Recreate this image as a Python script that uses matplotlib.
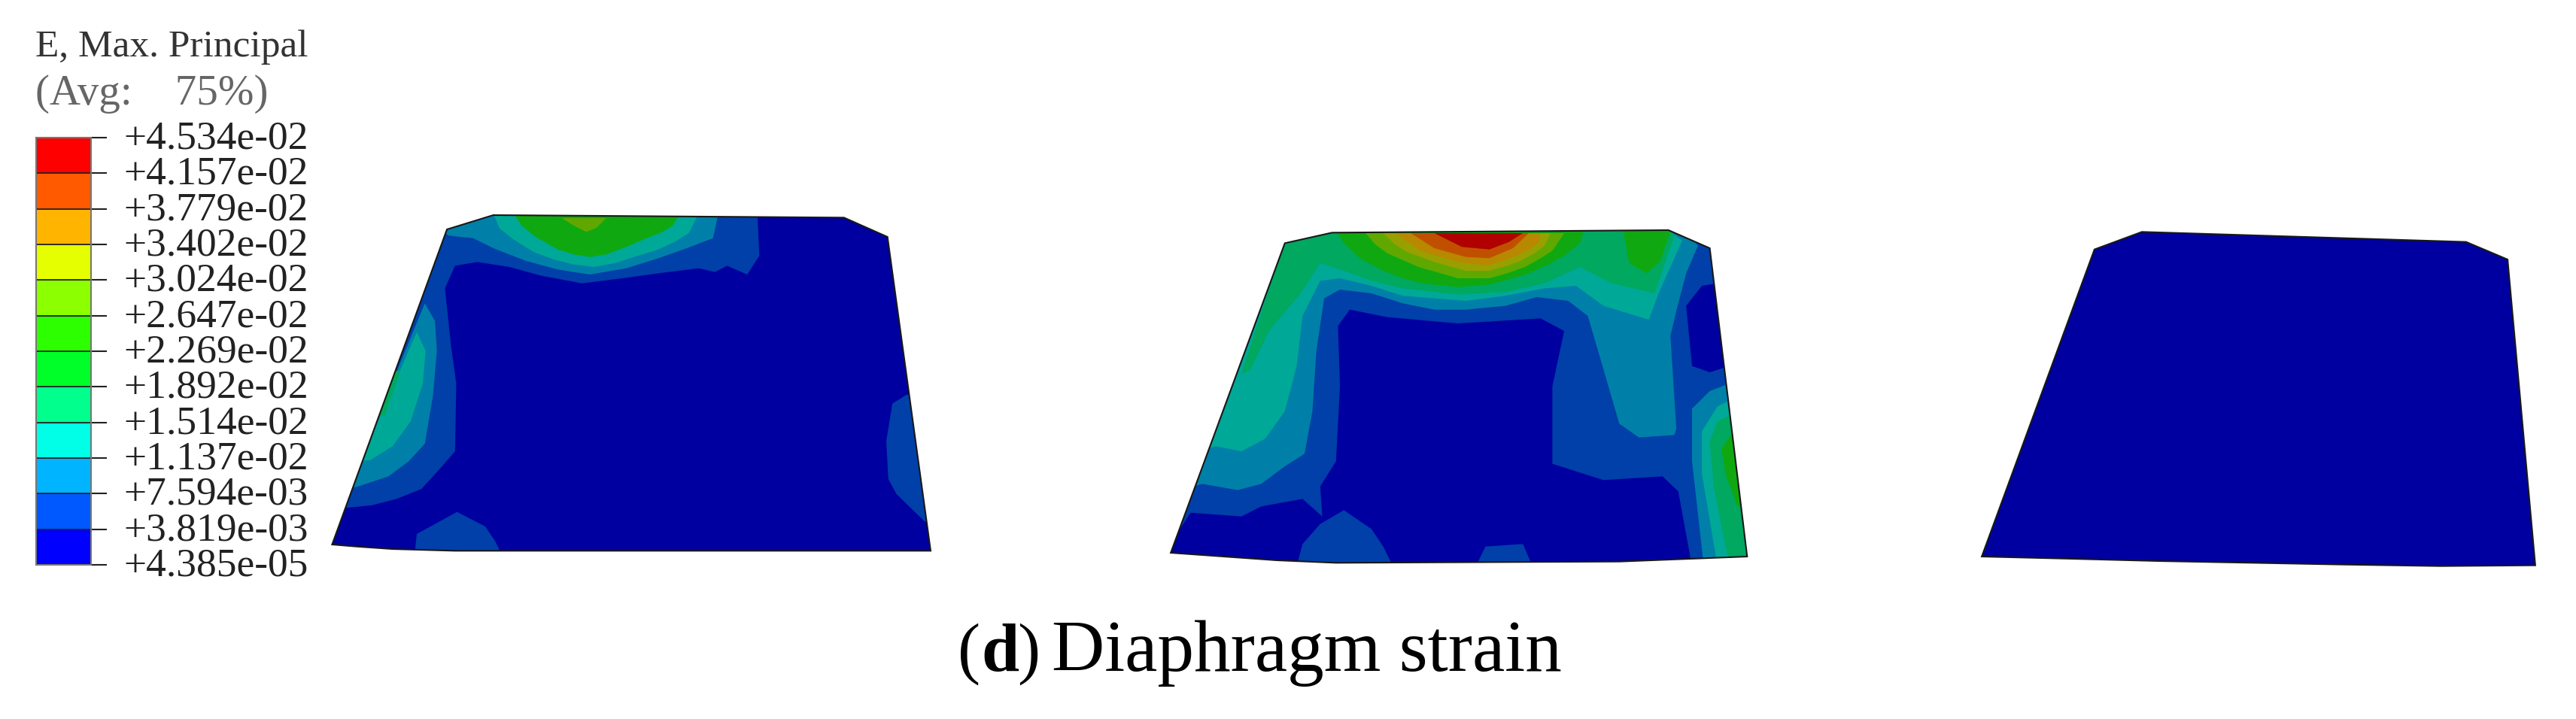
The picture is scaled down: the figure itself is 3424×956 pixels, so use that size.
import matplotlib
matplotlib.use("Agg")
from matplotlib import pyplot as plt
from matplotlib.patches import Polygon
from matplotlib.transforms import ScaledTranslation

plt.rcParams['font.family'] = ['Liberation Serif', 'DejaVu Serif']

W, H = 3424, 956

# legend
legend_title = 'E, Max. Principal'
legend_avg = '(Avg:    75%)'
legend_labels = ['+4.534e-02', '+4.157e-02', '+3.779e-02', '+3.402e-02', '+3.024e-02',
                 '+2.647e-02', '+2.269e-02', '+1.892e-02', '+1.514e-02', '+1.137e-02',
                 '+7.594e-03', '+3.819e-03', '+4.385e-05']
legend_colors = ['#ff0000', '#ff5a00', '#ffb400', '#e6ff00', '#8cff00', '#2dff00',
                 '#00ff28', '#00ff8c', '#00ffe6', '#00b4ff', '#0059ff', '#0000ff']

# shaded contour colours, level 0 is the lowest band
band_colors = ['#0000a0', '#0040a8', '#0080a8', '#00a898', '#00a860', '#10a810',
               '#60a800', '#98a000', '#b88800', '#c05000', '#b00000']

outline_a = [(40, 1392), (100, 1400), (190, 1410), (345, 1417), (1525, 1417), (1418, 165),
             (1310, 88), (440, 78), (325, 135)]
bands_a = [
    (1, [(80, 1245), (140, 1235), (200, 1210), (262, 1170), (310, 1085), (345, 1020), (348, 750),
         (335, 600), (320, 370), (345, 280), (400, 265), (480, 285), (560, 320), (660, 350),
         (760, 330), (850, 310), (950, 290), (990, 305), (1020, 280), (1070, 315), (1100, 240),
         (1095, 60), (440, 60), (300, 120), (40, 1250)]),
    (1, [(1465, 795), (1430, 830), (1415, 980), (1420, 1130), (1440, 1190), (1510, 1300),
         (1540, 1300), (1490, 790)]),
    (1, [(245, 1430), (250, 1350), (350, 1262), (420, 1320), (445, 1380), (460, 1430)]),
    (2, [(105, 1160), (180, 1120), (230, 1060), (270, 990), (290, 800), (300, 620), (295, 500),
         (270, 430), (80, 1170)]),
    (2, [(330, 160), (390, 170), (440, 210), (520, 260), (600, 295), (680, 315), (770, 290),
         (850, 250), (920, 210), (985, 170), (1000, 60), (440, 60), (300, 130)]),
    (3, [(135, 1055), (190, 1000), (235, 900), (265, 750), (272, 620), (250, 545), (110, 1060)]),
    (3, [(440, 70), (455, 130), (490, 175), (540, 225), (590, 255), (640, 275), (690, 285),
         (740, 270), (800, 240), (850, 215), (890, 185), (925, 150), (950, 70)]),
    (5, [(490, 70), (510, 120), (545, 165), (600, 215), (640, 235), (680, 245), (720, 235),
         (770, 205), (820, 170), (860, 145), (885, 120), (905, 70)]),
    (4, [(170, 880), (210, 700), (190, 700), (150, 880)]),
    (6, [(610, 90), (640, 120), (670, 145), (695, 130), (720, 90)]),
]

outline_b = [(50, 1365), (320, 1395), (470, 1405), (1190, 1400), (1515, 1380), (1420, 150),
             (1315, 78), (460, 88), (340, 130)]
bands_b = [
    (1, [(0, 0), (1557, 0), (1557, 1500), (0, 1500)]),
    (0, [(505, 395), (600, 425), (780, 450), (990, 430), (1050, 480), (1020, 700), (1020, 1010),
         (1150, 1075), (1300, 1060), (1340, 1120), (1375, 1420), (320, 1420), (30, 1380),
         (100, 1205), (230, 1220), (280, 1180), (385, 1150), (435, 1220), (430, 1100),
         (470, 1000), (480, 700), (475, 460)]),
    (0, [(1400, 300), (1440, 290), (1470, 620), (1420, 645), (1375, 620), (1360, 380)]),
    (1, [(370, 1420), (385, 1330), (430, 1250), (490, 1195), (560, 1270), (590, 1340), (615, 1420)]),
    (1, [(825, 1420), (850, 1340), (945, 1330), (970, 1420)]),
    (2, [(130, 1090), (220, 1115), (280, 1090), (340, 1020), (390, 970), (410, 800), (420, 560),
         (440, 350), (480, 315), (560, 330), (640, 370), (720, 395), (800, 395), (900, 380),
         (980, 345), (1060, 360), (1110, 420), (1140, 580), (1190, 850), (1240, 905), (1330, 895),
         (1335, 870), (1320, 500), (1335, 400), (1360, 250), (1390, 140), (1350, 60), (460, 60),
         (320, 120), (90, 1110)]),
    (3, [(165, 940), (230, 960), (290, 910), (340, 800), (370, 620), (385, 420), (430, 280),
         (480, 270), (560, 300), (640, 340), (800, 360), (900, 340), (1000, 310), (1080, 300),
         (1150, 380), (1265, 435), (1290, 330), (1350, 120), (1300, 60), (460, 60), (340, 120),
         (140, 950)]),
    (4, [(250, 640), (300, 480), (380, 330), (430, 210), (490, 240), (560, 280), (640, 310),
         (780, 335), (900, 325), (1000, 290), (1090, 225), (1170, 290), (1280, 330), (1330, 100),
         (1310, 60), (460, 60), (340, 120), (230, 650)]),
    (5, [(470, 80), (490, 130), (530, 190), (590, 240), (640, 270), (690, 290), (780, 305),
         (860, 295), (920, 270), (960, 250), (1010, 215), (1050, 180), (1090, 130), (1100, 80)]),
    (5, [(1200, 80), (1215, 210), (1260, 250), (1295, 200), (1320, 80)]),
    (6, [(545, 90), (570, 135), (600, 170), (680, 225), (780, 270), (860, 270), (905, 250),
         (950, 225), (990, 190), (1020, 160), (1050, 90)]),
    (7, [(590, 90), (620, 135), (650, 165), (720, 205), (800, 240), (860, 240), (905, 220),
         (940, 200), (975, 170), (1000, 140), (1015, 90)]),
    (8, [(620, 90), (690, 165), (780, 205), (855, 220), (895, 200), (930, 180), (965, 150),
         (985, 130), (990, 90)]),
    (9, [(660, 90), (720, 150), (800, 185), (860, 190), (920, 150), (960, 90)]),
    (10, [(720, 90), (790, 145), (860, 155), (910, 125), (945, 90)]),
    (2, [(1470, 690), (1420, 720), (1375, 790), (1375, 1000), (1405, 1420), (1540, 1420)]),
    (3, [(1480, 750), (1440, 780), (1400, 880), (1400, 1050), (1440, 1420), (1540, 1420)]),
    (4, [(1480, 810), (1440, 840), (1420, 920), (1430, 1100), (1470, 1420), (1540, 1420)]),
    (5, [(1480, 880), (1450, 950), (1460, 1050), (1490, 1180), (1540, 1180)]),
]

outline_c = [(65, 1380), (270, 1388), (515, 1398), (750, 1405), (980, 1412), (1225, 1418),
             (1465, 1415), (1395, 195), (1290, 125), (470, 85), (350, 155)]
bands_c = []

caption_bold = 'd'
caption_text = 'Diaphragm strain'

fig = plt.figure(figsize=(W / 100, H / 100), dpi=100, facecolor='white')


def add_box(x, y, w, h):
    return fig.add_axes([x / W, 1 - (y + h) / H, w / W, h / H])


def draw_panel(box, outline, bands):
    ax = add_box(*box)
    ax.set_xlim(0, 1568)
    ax.set_ylim(1500, 0)
    ax.axis('off')
    shape = Polygon(outline, closed=True, fc=band_colors[0], ec='none', zorder=1)
    ax.add_patch(shape)
    for i, (level, pts) in enumerate(bands):
        p = Polygon(pts, closed=True, fc=band_colors[level], ec='none', zorder=2 + i * 0.01)
        ax.add_patch(p)
        p.set_clip_path(shape)
    ax.add_patch(Polygon(outline, closed=True, fc='none', ec='#181818', lw=1.5, zorder=5))


draw_panel((420, 260, 840, 500), outline_a, bands_a)
draw_panel((1530, 280, 820, 500), outline_b, bands_b)
draw_panel((2600, 280, 824, 500), outline_c, bands_c)

# legend bar with its ticks
leg = add_box(48, 183, 73, 568)
positions = list(range(len(legend_colors)))
leg.bar([0] * len(positions), [1] * len(positions), bottom=positions, width=1,
        color=legend_colors[::-1], edgecolor='#222222', linewidth=1.2)
leg.set_xlim(-0.5, 0.5)
leg.set_ylim(0, len(legend_colors))
leg.set_xticks([])
leg.yaxis.tick_right()
leg.set_yticks(list(range(len(legend_labels))))
leg.set_yticklabels(legend_labels[::-1], fontsize=38.5, color='#222222')
leg.tick_params(axis='y', length=15, width=1.5, pad=16, color='#222222')
nudge = ScaledTranslation(0, 4 / 100, fig.dpi_scale_trans)
for lab in leg.get_yticklabels():
    lab.set_transform(lab.get_transform() + nudge)
for s in leg.spines.values():
    s.set_color('#777777')
    s.set_linewidth(1.5)

# text goes on a full-figure pixel axes
ax = fig.add_axes([0, 0, 1, 1], zorder=-1)
ax.set_xlim(0, W)
ax.set_ylim(H, 0)
ax.axis('off')
ax.text(47, 63, legend_title, fontsize=37, color='#333333', va='center', ha='left')
ax.text(47, 125, legend_avg, fontsize=41, color='#666666', va='center', ha='left')

ax.text(1273, 892, '(', fontsize=65, color='black', va='baseline')
ax.text(1304, 892, caption_bold, fontsize=65, color='black', va='baseline', fontweight='bold')
ax.text(1352, 892, ')', fontsize=65, color='black', va='baseline')
ax.text(1398, 892, caption_text, fontsize=70, color='black', va='baseline')

fig.savefig('out.png', dpi=100, facecolor='white')
